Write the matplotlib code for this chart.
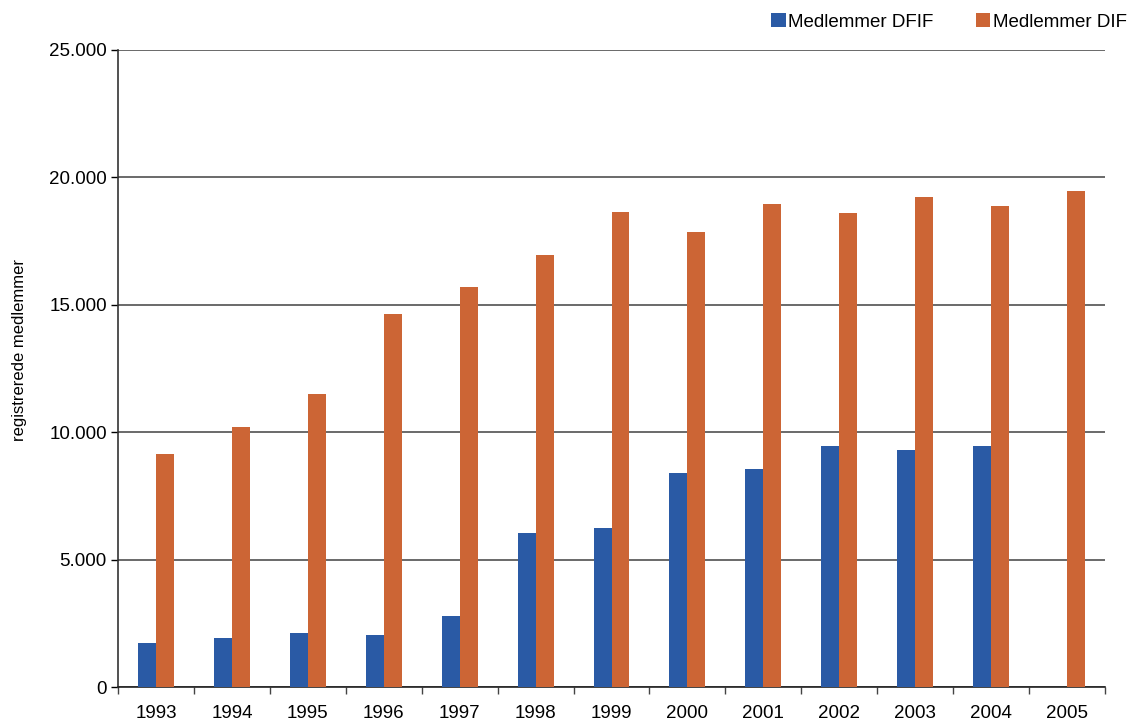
import matplotlib
matplotlib.use("Agg")
import matplotlib.pyplot as plt
import matplotlib.ticker as mticker
import numpy as np

years = ["1993", "1994", "1995", "1996", "1997", "1998", "1999",
         "2000", "2001", "2002", "2003", "2004", "2005"]
dfif = [1730, 1930, 2130, 2050, 2800, 6040, 6240, 8400, 8560, 9460, 9300, 9460, 0]
dif = [9130, 10200, 11500, 14640, 15700, 16950, 18640, 17860, 18960, 18600, 19230, 18880, 19470]

BLUE = "#2A5AA5"
ORANGE = "#CC6535"

plt.rcParams.update({
    "font.family": ["Liberation Sans", "DejaVu Sans"],
    "font.size": 13.5,
})

fig = plt.figure(figsize=(11.31, 7.2), dpi=100)
ax = fig.add_axes([118 / 1131, 33 / 720, 987 / 1131, 637 / 720])

x = np.arange(len(years))
w = 0.237
ax.bar(x - w / 2, dfif, w, color=BLUE, label="Medlemmer DFIF", zorder=3)
ax.bar(x + w / 2, dif, w, color=ORANGE, label="Medlemmer DIF", zorder=3)

ax.set_xlim(-0.5, len(years) - 0.5)
ax.set_ylim(0, 25000)
ax.set_yticks(np.arange(0, 25001, 5000))
ax.yaxis.set_major_formatter(mticker.FuncFormatter(
    lambda v, p: "0" if v == 0 else f"{int(v):,}".replace(",", ".")))
ax.grid(axis="y", color="#5e5e5e", lw=1.3, zorder=1)
ax.set_axisbelow(True)

ax.set_xticks(x)
ax.set_xticklabels(years)
ax.set_xticks(np.arange(-0.5, len(years)), minor=True)
ax.tick_params(axis="x", which="major", length=0, pad=13)
ax.tick_params(axis="x", which="minor", length=5, width=1, color="#444444")
ax.tick_params(axis="y", length=5, width=1, pad=3)

for s in ["top", "right"]:
    ax.spines[s].set_visible(False)
ax.spines["left"].set_color("#333333")
ax.spines["bottom"].set_color("#222222")
ax.spines["left"].set_linewidth(1.2)
ax.spines["bottom"].set_linewidth(1.2)

ax.set_ylabel("registrerede medlemmer", fontsize=12)
ax.yaxis.set_label_coords(-0.092, 0.529)

fig.legend(loc="center right", bbox_to_anchor=(1.011, 1 - 22 / 720), ncol=2,
           frameon=False, handlelength=0.75, handleheight=0.75,
           handletextpad=0.12, columnspacing=2.3, fontsize=13.5)

fig.savefig("out.png", dpi=100)
